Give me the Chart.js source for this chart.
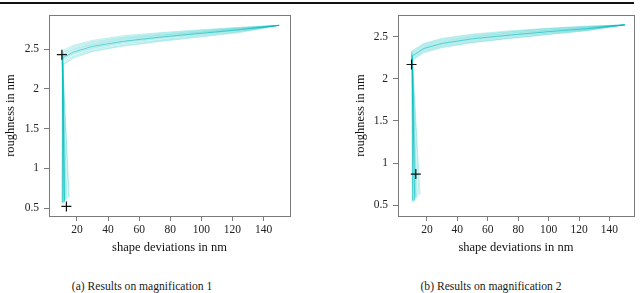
<!DOCTYPE html>
<html>
<head>
<meta charset="utf-8">
<script src="https://cdn.jsdelivr.net/npm/chart.js@4/dist/chart.umd.min.js"></script>
<style>
  html, body { margin: 0; padding: 0; background: #fff; }
  body { width: 640px; height: 293px; position: relative; overflow: hidden;
         font-family: "Liberation Serif", serif; color: #1a1a1a; }
  canvas { position: absolute; top: 0; }
  #rule { position: absolute; left: 0; top: 2px; width: 634px; height: 1.5px; background: #111; }
  .caption { position: absolute; top: 280px; font-size: 11.6px; white-space: nowrap;
             transform: translateX(-50%); }
</style>
</head>
<body>
<div id="rule"></div>
<canvas id="chart-mag1" width="300" height="262" style="left:0"></canvas>
<canvas id="chart-mag2" width="290" height="262" style="left:350px"></canvas>
<div class="caption" style="left:142px">(a) Results on magnification 1</div>
<div class="caption" style="left:491px">(b) Results on magnification 2</div>
<script>
/* ── data: each run = [shape deviation, roughness] points ── */
const xTicks = [20, 40, 60, 80, 100, 120, 140];
const yTicks = [0.5, 1, 1.5, 2, 2.5];

const mag1Runs = [
  [[150,2.80],[125,2.775],[100,2.745],[75,2.71],[50,2.67],[30,2.61],[18,2.55],[10.3,2.48],[12.5,0.60]],
  [[150,2.80],[125,2.77],[100,2.735],[75,2.70],[50,2.655],[30,2.595],[18,2.535],[10.5,2.46],[11.0,0.57]],
  [[150,2.80],[125,2.765],[100,2.73],[75,2.69],[50,2.645],[30,2.585],[18,2.52],[10.4,2.45],[13.5,0.62]],
  [[150,2.80],[125,2.76],[100,2.72],[75,2.68],[50,2.635],[30,2.57],[18,2.505],[10.6,2.43],[10.2,0.55]],
  [[150,2.80],[125,2.755],[100,2.715],[75,2.675],[50,2.625],[30,2.56],[18,2.495],[10.5,2.42],[12.0,0.58]],
  [[150,2.80],[125,2.75],[100,2.71],[75,2.665],[50,2.615],[30,2.55],[18,2.48],[10.7,2.40],[14.5,0.63]],
  [[150,2.80],[125,2.745],[100,2.70],[75,2.655],[50,2.60],[30,2.535],[18,2.465],[10.6,2.38],[11.5,0.56]],
  [[150,2.80],[125,2.74],[100,2.695],[75,2.645],[50,2.59],[30,2.52],[18,2.45],[10.8,2.37],[13.0,0.59]],
  [[150,2.80],[125,2.735],[100,2.685],[75,2.635],[50,2.58],[30,2.51],[18,2.44],[10.7,2.35],[10.8,0.57]],
  [[150,2.80],[125,2.725],[100,2.675],[75,2.62],[50,2.565],[30,2.495],[18,2.42],[10.9,2.33],[12.2,0.61]],
  [[150,2.80],[125,2.72],[100,2.665],[75,2.61],[50,2.55],[30,2.48],[18,2.405],[10.8,2.31],[15.0,0.64]],
  [[150,2.80],[125,2.71],[100,2.655],[75,2.60],[50,2.54],[30,2.47],[18,2.39],[11.0,2.30],[11.8,0.58]],
];
const mag1Mean = [[150,2.80],[125,2.745],[100,2.70],[75,2.655],[50,2.60],[30,2.535],[18,2.465],[10.6,2.39],[12.0,0.58]];
const mag1Marks = [[10.3,2.43],[13.2,0.52]];

const mag2Runs = [
  [[150,2.64],[125,2.625],[100,2.60],[75,2.57],[50,2.53],[30,2.48],[18,2.42],[10.0,2.33],[12.5,0.58]],
  [[150,2.64],[125,2.62],[100,2.595],[75,2.56],[50,2.52],[30,2.47],[18,2.41],[10.1,2.32],[10.8,0.55]],
  [[150,2.64],[125,2.615],[100,2.59],[75,2.555],[50,2.51],[30,2.46],[18,2.40],[10.0,2.31],[13.8,0.60]],
  [[150,2.64],[125,2.61],[100,2.58],[75,2.545],[50,2.50],[30,2.45],[18,2.39],[10.2,2.30],[10.3,0.53]],
  [[150,2.64],[125,2.605],[100,2.575],[75,2.54],[50,2.495],[30,2.44],[18,2.38],[10.1,2.29],[12.0,0.56]],
  [[150,2.64],[125,2.60],[100,2.57],[75,2.53],[50,2.485],[30,2.43],[18,2.37],[10.3,2.28],[14.8,0.62]],
  [[150,2.64],[125,2.595],[100,2.56],[75,2.52],[50,2.475],[30,2.42],[18,2.36],[10.2,2.27],[11.3,0.54]],
  [[150,2.64],[125,2.59],[100,2.555],[75,2.515],[50,2.465],[30,2.41],[18,2.35],[10.4,2.26],[13.2,0.58]],
  [[150,2.64],[125,2.585],[100,2.545],[75,2.505],[50,2.455],[30,2.40],[18,2.34],[10.3,2.25],[10.6,0.56]],
  [[150,2.64],[125,2.58],[100,2.54],[75,2.495],[50,2.445],[30,2.39],[18,2.33],[10.5,2.24],[12.6,0.60]],
  [[150,2.64],[125,2.575],[100,2.53],[75,2.485],[50,2.435],[30,2.38],[18,2.32],[10.4,2.23],[15.5,0.63]],
  [[150,2.64],[125,2.57],[100,2.525],[75,2.48],[50,2.43],[30,2.37],[18,2.31],[10.6,2.22],[11.6,0.55]],
];
const mag2Mean = [[150,2.64],[125,2.595],[100,2.56],[75,2.52],[50,2.475],[30,2.42],[18,2.36],[10.3,2.27],[12.0,0.56]];
const mag2Marks = [[9.9,2.17],[12.7,0.87]];

const RUN_COLOR = 'rgba(0, 190, 190, 0.26)';
const MEAN_COLOR = 'rgba(0, 184, 184, 0.55)';
const AXIS_GRAY = '#7a7a7a';
const SERIF = '"Liberation Serif", "Times New Roman", serif';

const toXY = (pts) => pts.map(([x, y]) => ({x, y}));

/* gray frame round the whole plot area */
const frame = {
  id: 'frame',
  afterDraw(chart) {
    const {ctx, chartArea: a} = chart;
    ctx.save();
    ctx.strokeStyle = AXIS_GRAY;
    ctx.lineWidth = 1;
    ctx.strokeRect(Math.round(a.left) + 0.5, Math.round(a.top) + 0.5,
                   Math.round(a.right - a.left), Math.round(a.bottom - a.top));
    ctx.restore();
  },
};

function drawMag(id, runs, mean, marks, cfg) {
  const datasets = [
    {data: toXY(marks), pointStyle: 'cross', pointRadius: 5, borderColor: '#111',
     borderWidth: 1.2, showLine: false},
    {data: toXY(mean), borderColor: MEAN_COLOR, borderWidth: 1, showLine: true, pointRadius: 0},
    ...runs.map(r => ({data: toXY(r), borderColor: RUN_COLOR, borderWidth: 1, showLine: true, pointRadius: 0})),
  ];
  new Chart(document.getElementById(id).getContext('2d'), {
    type: 'scatter',
    data: {datasets},
    options: {
      responsive: false,
      animation: false,
      layout: {padding: {left: 0, top: 15, right: cfg.padRight, bottom: 0}},
      plugins: {legend: {display: false}, tooltip: {enabled: false}},
      scales: {
        x: {
          type: 'linear', min: cfg.xMin, max: cfg.xMax,
          afterBuildTicks: s => { s.ticks = xTicks.map(v => ({value: v})); },
          afterFit: s => { s.height = 46; },
          grid: {drawOnChartArea: false, drawTicks: true, tickLength: 5, color: AXIS_GRAY},
          border: {display: true, color: AXIS_GRAY},
          ticks: {padding: 2, color: '#222', font: {family: SERIF, size: 11.5},
                  callback: v => String(v), maxRotation: 0},
          title: {display: true, text: 'shape deviations in nm', color: '#111',
                  font: {family: SERIF, size: 12.5}, padding: {top: 0, bottom: 7}},
        },
        y: {
          type: 'linear', min: cfg.yMin, max: cfg.yMax,
          afterBuildTicks: s => { s.ticks = yTicks.map(v => ({value: v})); },
          afterFit: s => { s.width = cfg.yWidth; },
          grid: {drawOnChartArea: false, drawTicks: true, tickLength: 5, color: AXIS_GRAY},
          border: {display: true, color: AXIS_GRAY},
          ticks: {padding: 5, color: '#222', font: {family: SERIF, size: 11.5},
                  callback: v => String(v)},
          title: {display: true, text: 'roughness in nm', color: '#111',
                  font: {family: SERIF, size: 12.5}, padding: {top: 3, bottom: 0}},
        },
      },
    },
    plugins: [frame],
  });
}

drawMag('chart-mag1', mag1Runs, mag1Mean, mag1Marks,
        {xMin: 2, xMax: 157, yMin: 0.40, yMax: 2.93, yWidth: 49, padRight: 10});
drawMag('chart-mag2', mag2Runs, mag2Mean, mag2Marks,
        {xMin: 1, xMax: 156, yMin: 0.373, yMax: 2.757, yWidth: 48, padRight: 3});
</script>
</body>
</html>
